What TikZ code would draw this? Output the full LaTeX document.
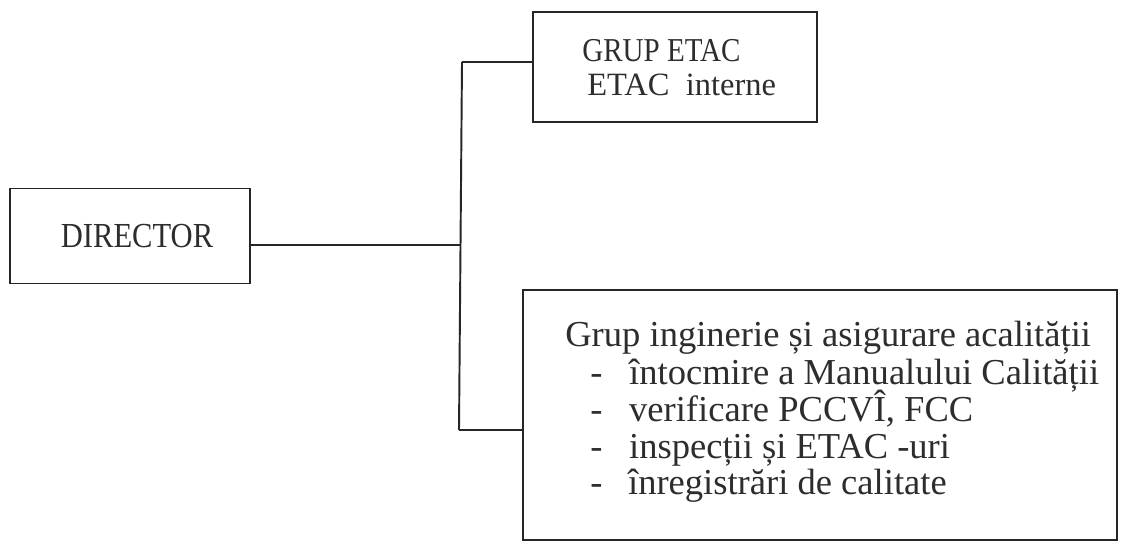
\documentclass[tikz,border=0pt]{standalone}
\usepackage{fontspec}
\setmainfont{Liberation Serif}
\newfontfamily\dirfont[FakeStretch=0.87]{Liberation Serif}
\definecolor{ink}{RGB}{40,36,44}
\definecolor{txt}{RGB}{45,45,45}
\begin{document}
\begin{tikzpicture}[x=0.02cm,y=-0.02cm,
  box/.style={draw=ink,line width=1.1pt,rectangle,inner sep=0pt,text=txt},
  conn/.style={draw=ink,line width=1.1pt},
  plain/.style={anchor=base west,inner sep=0pt,text=txt},
  itemtxt/.style={plain,font=\fontsize{20.8}{21}\selectfont}]
\useasboundingbox (0,0) rectangle (1125,560);
\fill[white] (0,0) rectangle (1125,560);
% boxes
\node[box,minimum width=4.8cm,minimum height=1.9cm,font=\dirfont\fontsize{20}{20}\selectfont] (dir) at (130,236) {\hspace*{8pt}DIRECTOR};
\node[box,minimum width=5.68cm,minimum height=2.2cm] (grup) at (675,67) {};
\node[box,minimum width=11.88cm,minimum height=5cm] (big) at (820,415) {};
% texts of GRUP ETAC
\node[plain,font=\dirfont\fontsize{19}{19}\selectfont] (g1) at (582,62) {GRUP ETAC};
\node[plain,font=\fontsize{18.5}{18.5}\selectfont] (g2) at (587,96) {ETAC\ \ interne};
% texts of big box
\node[itemtxt] (l1) at (565,346) {Grup inginerie și asigurare acalității};
\node[itemtxt] (l2) at (590,384) {\makebox[22.1pt][l]{-}întocmire a Manualului Calității};
\node[itemtxt] (l3) at (590,421) {\makebox[22.1pt][l]{-}verificare PCCVÎ, FCC};
\node[itemtxt] (l4) at (590,458) {\makebox[22.1pt][l]{-}inspecții și ETAC -uri};
\node[itemtxt] (l5) at (590,494) {\makebox[21.5pt][l]{-}înregistrări de calitate};
% connectors
\coordinate (top) at (462,62);
\coordinate (bot) at (459,430);
\coordinate (dj) at (461,245);
\draw[conn] (top) -- (bot);
\draw[conn] (top) -- (top -| grup.west);
\draw[conn] (bot) -- (bot -| big.west);
\draw[conn] (dir.east |- dj) -- (dj);
\end{tikzpicture}
\end{document}
